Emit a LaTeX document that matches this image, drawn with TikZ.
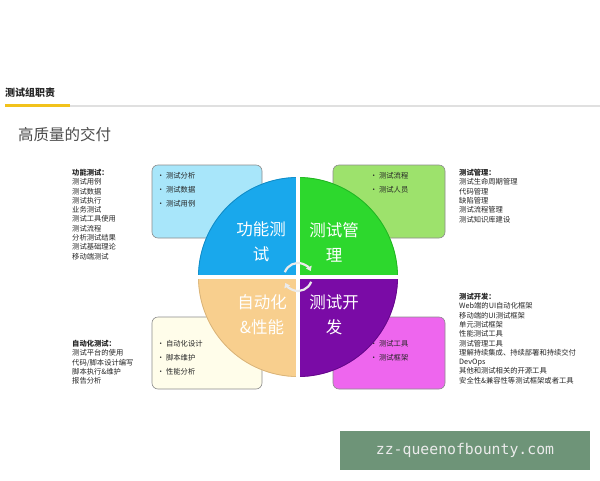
\documentclass[tikz,border=0pt]{standalone}
\usepackage{fontspec}
\setmainfont{Noto Sans CJK SC}
\newfontfamily\wmfont{DejaVu Sans Mono}
\usetikzlibrary{arrows.meta}
\definecolor{qblue}{HTML}{19A8EC}
\definecolor{qgreen}{HTML}{2DD82D}
\definecolor{qorange}{HTML}{F8CF8E}
\definecolor{qpurple}{HTML}{7A0BA6}
\definecolor{bblue}{HTML}{A8E6FA}
\definecolor{bgreen}{HTML}{9DE26C}
\definecolor{bcream}{HTML}{FFFDEA}
\definecolor{bmag}{HTML}{EE66EE}
\definecolor{wmgreen}{HTML}{6E9478}
\definecolor{hdyellow}{HTML}{F2C21B}
\tikzset{
  infobox/.style={draw=black!45, line width=0.6pt, rounded corners=6pt},
  sidetext/.style={anchor=north west, align=left, inner sep=0pt, font=\fontsize{7.3}{9.3}\selectfont, text=black!85},
  bullets/.style={anchor=north west, align=left, inner sep=0pt, font=\fontsize{7.3}{14}\selectfont, text=black!85},
  qlabel/.style={align=center, inner sep=0pt, font=\fontsize{16.5}{25}\selectfont, text=white},
  ringarrow/.style={draw=black!8, line width=2.2pt, -{Triangle[length=4.5pt,width=6pt]}},
}
\begin{document}
\begin{tikzpicture}[x=1pt,y=-1pt]
\useasboundingbox (0,0) rectangle (600,480);
\fill[white] (0,0) rectangle (600,480);
% header
\node[anchor=west, inner sep=0pt, font=\fontsize{10}{12}\selectfont\bfseries, text=black!85] (hdr) at (5,93) {测试组职责};
\fill[black!12] (70,104.5) rectangle (600,106.5);
\fill[hdyellow] (5,103.5) rectangle (70,107);
\node[anchor=west, inner sep=0pt, font=\fontsize{15.5}{18}\selectfont, text=black!70] (sub) at (18,135) {高质量的交付};
% boxes
\draw[infobox, fill=bblue] (152,165) rectangle (262,238);
\draw[infobox, fill=bgreen] (333,165) rectangle (445,238);
\draw[infobox, fill=bcream] (152,317) rectangle (262,389);
\draw[infobox, fill=bmag] (333,317) rectangle (445,389);
\node[bullets] (b1) at (157,172) {• 测试分析\\• 测试数据\\• 测试用例};
\node[bullets] (b2) at (370,172) {• 测试流程\\• 测试人员};
\node[bullets] (b3) at (157,340) {• 自动化设计\\• 脚本维护\\• 性能分析};
\node[bullets] (b4) at (370,340) {• 测试工具\\• 测试框架};
% circle quadrants
\coordinate (C) at (298,277);
\fill[qblue] (C) -- ++(180:100) arc[start angle=180,end angle=270,radius=100] -- cycle;
\fill[qgreen] (C) -- ++(270:100) arc[start angle=270,end angle=360,radius=100] -- cycle;
\fill[qpurple] (C) -- ++(0:100) arc[start angle=0,end angle=90,radius=100] -- cycle;
\fill[qorange] (C) -- ++(90:100) arc[start angle=90,end angle=180,radius=100] -- cycle;
\draw[qblue!80!black, line width=0.6pt] (C) ++(180:99.5) arc[start angle=180,end angle=270,radius=99.5];
\draw[qgreen!80!black, line width=0.6pt] (C) ++(270:99.5) arc[start angle=270,end angle=360,radius=99.5];
\draw[qpurple!80!black, line width=0.6pt] (C) ++(0:99.5) arc[start angle=0,end angle=90,radius=99.5];
\draw[qorange!85!black, line width=0.6pt] (C) ++(90:99.5) arc[start angle=90,end angle=180,radius=99.5];
\draw[white, line width=4pt] (196,277) -- (400,277);
\draw[white, line width=4pt] (298,175) -- (298,379);
% ring arrows
\draw[ringarrow] (C) ++(200:14) arc[start angle=200,end angle=335,radius=14];
\draw[ringarrow] (C) ++(20:14) arc[start angle=20,end angle=155,radius=14];
% quadrant labels
\node[qlabel] (q1) at (261,242) {功能测\\试};
\node[qlabel] (q2) at (334,242) {测试管\\理};
\node[qlabel] (q3) at (262,315) {自动化\\\&性能};
\node[qlabel] (q4) at (334,315) {测试开\\发};
% side texts
\node[sidetext] (t1) at (72,169) {\textbf{功能测试：}\\测试用例\\测试数据\\测试执行\\业务测试\\测试工具使用\\测试流程\\分析测试结果\\测试基础理论\\移动端测试};
\node[sidetext] (t2) at (459,169) {\textbf{测试管理：}\\测试生命周期管理\\代码管理\\缺陷管理\\测试流程管理\\测试知识库建设};
\node[sidetext] (t3) at (72,340) {\textbf{自动化测试：}\\测试平台的使用\\代码/脚本设计编写\\脚本执行\&维护\\报告分析};
\node[sidetext] (t4) at (459,293) {\textbf{测试开发：}\\Web端的UI自动化框架\\移动端的UI测试框架\\单元测试框架\\性能测试工具\\测试管理工具\\理解持续集成、持续部署和持续交付\\DevOps\\其他和测试相关的开源工具\\安全性\&兼容性等测试框架或者工具};
% watermark
\fill[wmgreen] (340,431) rectangle (590,470);
\node[inner sep=0pt, font=\wmfont\fontsize{14.8}{16}\selectfont, text=white!92!black] (wm) at (465,450.5) {zz-queenofbounty.com};
\end{tikzpicture}
\end{document}
